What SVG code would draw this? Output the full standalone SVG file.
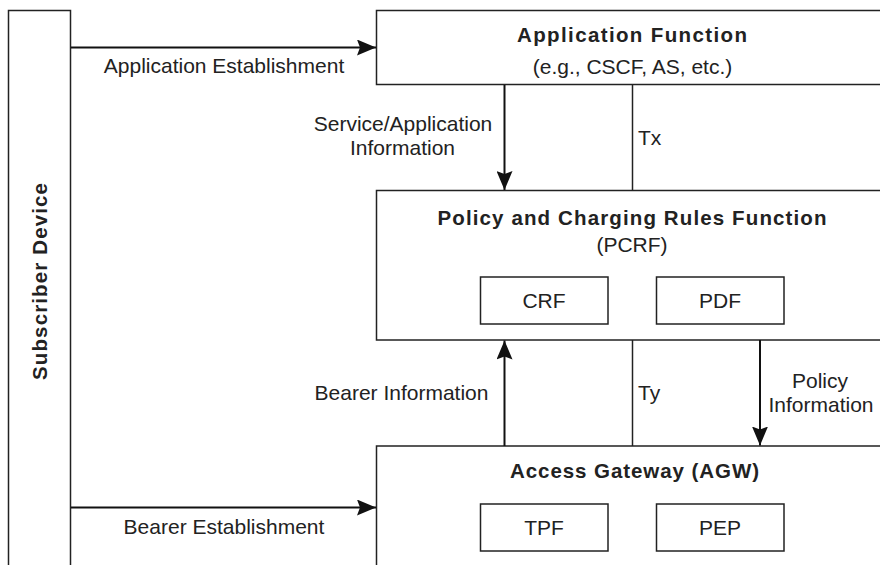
<svg xmlns="http://www.w3.org/2000/svg" width="880" height="565" viewBox="0 0 880 565">
  <style>
    .box { fill: #ffffff; stroke: #222222; stroke-width: 1.5; }
    .line { fill: none; stroke: #222222; stroke-width: 1.5; }
    .arrow { fill: none; stroke: #111111; stroke-width: 2; marker-end: url(#ah); }
    .t { font-family: "Liberation Sans", Arial, sans-serif; font-size: 21px; fill: #222222; text-anchor: middle; }
    .b { font-family: "Liberation Sans", Arial, sans-serif; font-size: 20.5px; font-weight: bold; fill: #222222; text-anchor: middle; }
  </style>
  <defs>
    <marker id="ah" markerUnits="userSpaceOnUse" markerWidth="20" markerHeight="16" refX="19" refY="8" orient="auto">
      <path d="M0,0 L19,8 L0,16 L3,8 z" fill="#111111"/>
    </marker>
  </defs>
  <rect width="880" height="565" fill="#ffffff"/>

  <g id="subscriber-device">
    <rect class="box" x="8.5" y="10.5" width="62" height="600"/>
    <text class="b" transform="translate(46.5,281.5) rotate(-90)" x="0" y="0" textLength="197" lengthAdjust="spacing">Subscriber Device</text>
  </g>

  <g id="application-function">
    <rect class="box" x="376.5" y="10.5" width="520" height="74"/>
    <text class="b" x="632" y="42" textLength="230" lengthAdjust="spacing">Application Function</text>
    <text class="t" x="632.5" y="74">(e.g., CSCF, AS, etc.)</text>
  </g>

  <g id="pcrf">
    <rect class="box" x="376.5" y="190.5" width="520" height="149.5"/>
    <text class="b" x="632" y="225" textLength="389" lengthAdjust="spacing">Policy and Charging Rules Function</text>
    <text class="t" x="632" y="252">(PCRF)</text>
  </g>
  <g id="crf">
    <rect class="box" x="480.5" y="277" width="127.5" height="47"/>
    <text class="t" x="544" y="308">CRF</text>
  </g>
  <g id="pdf">
    <rect class="box" x="656.5" y="277" width="127.5" height="47"/>
    <text class="t" x="720" y="308">PDF</text>
  </g>

  <g id="agw">
    <rect class="box" x="376.5" y="446" width="520" height="200"/>
    <text class="b" x="634.5" y="478" textLength="249" lengthAdjust="spacing">Access Gateway (AGW)</text>
  </g>
  <g id="tpf">
    <rect class="box" x="480.5" y="504" width="127.5" height="47"/>
    <text class="t" x="544" y="535">TPF</text>
  </g>
  <g id="pep">
    <rect class="box" x="656.5" y="504" width="127.5" height="47"/>
    <text class="t" x="720" y="535">PEP</text>
  </g>

  <g id="connectors">
    <line class="arrow" x1="71" y1="47.5" x2="376" y2="47.5"/>
    <text class="t" x="224" y="73">Application Establishment</text>

    <line class="arrow" x1="71" y1="507.5" x2="376" y2="507.5"/>
    <text class="t" x="224" y="534">Bearer Establishment</text>

    <line class="arrow" x1="504.5" y1="85" x2="504.5" y2="190"/>
    <text class="t" x="403" y="131">Service/Application</text>
    <text class="t" x="402.5" y="155">Information</text>

    <line class="line" x1="632.5" y1="85" x2="632.5" y2="190.5"/>
    <text class="t" x="638" y="145" style="text-anchor:start">Tx</text>

    <line class="arrow" x1="504.5" y1="446" x2="504.5" y2="340.5"/>
    <text class="t" x="401.5" y="400">Bearer Information</text>

    <line class="line" x1="632.5" y1="340" x2="632.5" y2="446"/>
    <text class="t" x="638" y="400" style="text-anchor:start">Ty</text>

    <line class="arrow" x1="760" y1="340" x2="760" y2="445.5"/>
    <text class="t" x="820" y="388">Policy</text>
    <text class="t" x="821" y="412">Information</text>
  </g>
</svg>
